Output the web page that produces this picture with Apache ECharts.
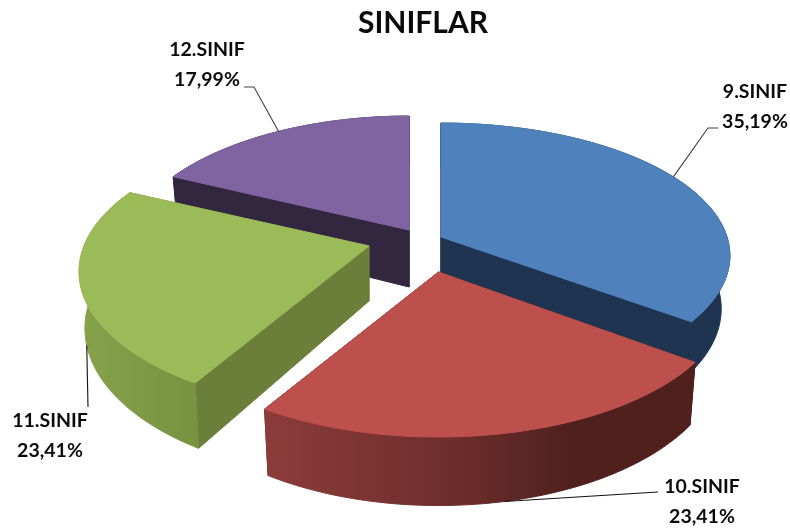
<!DOCTYPE html>
<html>
<head>
<meta charset="utf-8">
<style>html,body{margin:0;padding:0;background:#fff}#c{width:790px;height:529px}</style>
<script src="https://cdn.jsdelivr.net/npm/echarts@6/dist/echarts.min.js"></script>
</head>
<body>
<div id="c"></div>
<script>
// Data
const categories = ['9.SINIF', '10.SINIF', '11.SINIF', '12.SINIF'];
const shares = [35.19, 23.41, 23.41, 17.99];
const chartTitle = 'SINIFLAR';

// Styling and layout of the projected pie
const topColors = ['#4f81bd', '#bd4f4c', '#9bbb59', '#8064a2'];
const sideColors = ['#1f3450', '#4f201d', '#6b7f3b', '#33273f'];
const wallStops = [
  [[0, '#1f3450'], [1, '#1f3450']],
  [[0, '#8c3c3a'], [0.45, '#6c2d2b'], [0.72, '#4f201d'], [1, '#4f201d']],
  [[0, '#86a24c'], [1, '#779340']],
  [[0, '#33273f'], [1, '#33273f']]
];
const apexes = [[441, 237], [438.5, 272], [369, 246], [409, 230]];
const radiusX = [286, 285, 285, 281];
const radiusY = [130, 134.8, 134.8, 134.8];
const tilt = [0.141, 0.183, 0.183, 0.183];
const depths = [52, 56, 55, 57];
const shrinks = [0.97, 0.98, 0.98, 0.98];
const layers = [20, 40, 30, 10];          // paint order, far to near
const leaderOnLowerRim = [false, true, true, false];
const leaderTurn = [-3, 0, 0, 0];
const leaderElbows = [[[708, 128], [718, 128]], [[658, 492]], [[88, 407]], [[254, 87], [244, 87]]];
const labelCentres = [[755, 92], [702, 487], [50, 421], [207, 50]];
const LINE_GAP = 29.5;

function rim(i, deg, lower) {
  const apex = apexes[i], K = tilt[i];
  const a = deg * Math.PI / 180, u = Math.sin(a), v = -Math.cos(a), d = 1 - K * v;
  const dx = radiusX[i] * u / d, dy = radiusY[i] * v / d;
  return lower
    ? [apex[0] + dx * shrinks[i], apex[1] + dy + depths[i] / d]
    : [apex[0] + dx, apex[1] + dy];
}
function arc(i, from, to, lower) {
  const n = Math.max(8, Math.ceil((to - from) / 1.5)), pts = [];
  for (let k = 0; k <= n; k++) pts.push(rim(i, from + (to - from) * k / n, lower));
  return pts;
}
const total = shares.reduce((a, b) => a + b, 0);
const startAngles = shares.map((_, i) => shares.slice(0, i).reduce((a, b) => a + b, 0) / total * 360);
const fmt = v => v.toFixed(2).replace('.', ',') + '%';

function renderItem(params) {
  const i = params.dataIndex, apex = apexes[i], z = layers[i];
  const from = startAngles[i], to = from + shares[i] / total * 360;
  const apexLow = [apex[0], apex[1] + depths[i]];
  const upper = arc(i, from, to, false), lower = arc(i, from, to, true);
  const poly = (points, fill, z2, stroke) => ({type: 'polygon', z2, shape: {points},
    style: {fill, stroke: stroke || null, lineWidth: stroke ? 1 : 0}});
  const children = [];
  // flat cut walls
  children.push(poly([apex, upper[0], lower[0], apexLow], sideColors[i], z, sideColors[i]));
  children.push(poly([apex, upper[upper.length - 1], lower[lower.length - 1], apexLow], sideColors[i], z, sideColors[i]));
  // curved outer wall
  const wallFill = {
    type: 'linear', x: 0, y: 0, x2: 1, y2: 0,
    colorStops: wallStops[i].map(s => ({offset: s[0], color: s[1]}))
  };
  children.push(poly(upper.concat(lower.slice().reverse()), wallFill, z + 1, wallFill));
  // top face, outlined in its own colour so it hides the wall's outline along the rim
  children.push(poly([apex].concat(upper), topColors[i], z + 2, topColors[i]));
  // leader line, starts on the rim near the slice's middle angle
  const mid = (from + to) / 2 + leaderTurn[i];
  const leader = [rim(i, mid, leaderOnLowerRim[i])].concat(leaderElbows[i]);
  children.push({type: 'polyline', z2: 60, shape: {points: leader},
    style: {stroke: i === 1 || i === 2 ? '#111111' : '#404040', lineWidth: 1.1, fill: null}});
  // label
  const c = labelCentres[i];
  [categories[i], fmt(shares[i])].forEach((t, k) => children.push({
    type: 'text', z2: 70, x: c[0], y: c[1] + k * LINE_GAP,
    style: {text: t, fill: '#0b0b0b', font: 'bold 19.5px Lato, "Open Sans", sans-serif', align: 'center', verticalAlign: 'middle'}
  }));
  return {type: 'group', children};
}

const chart = echarts.init(document.getElementById('c'), null, {renderer: 'canvas'});
chart.setOption({
  animation: false,
  backgroundColor: '#ffffff',
  title: {
    text: chartTitle, left: 418, top: 3, textAlign: 'center',
    textStyle: {fontFamily: 'Lato, "Open Sans", sans-serif', fontWeight: 'bold', fontSize: 30, color: '#0b0b0b'}
  },
  series: [{
    type: 'custom', coordinateSystem: 'none', silent: true,
    data: shares.map((v, i) => ({name: categories[i], value: v})),
    renderItem
  }]
});
</script>
</body>
</html>
